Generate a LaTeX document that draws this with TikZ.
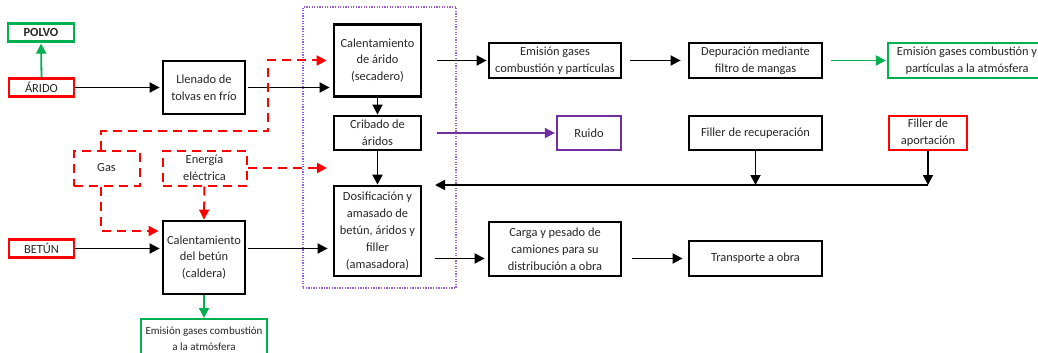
\documentclass[tikz,border=0pt]{standalone}
\usepackage{fontspec}
\setmainfont{Carlito}
\usetikzlibrary{arrows.meta,calc}
\definecolor{cgreen}{HTML}{00B050}
\definecolor{cred}{HTML}{FF0000}
\definecolor{cpurple}{HTML}{7030A0}
\definecolor{clilac}{HTML}{9B5FD0}
\definecolor{ctext}{HTML}{262626}
\begin{document}
\begin{tikzpicture}[x=1pt,y=-1pt,
  base/.style={draw, rectangle, inner sep=1pt, align=center, text=ctext,
    font=\fontsize{12.4}{16.8}\selectfont},
  blkbox/.style={base, line width=2.8pt},
  grnbox/.style={base, draw=cgreen, line width=2.2pt},
  redbox/.style={base, draw=cred, line width=2.2pt},
  dashbox/.style={base, draw=cred, line width=2pt, dash pattern=on 9pt off 6pt},
  purbox/.style={base, draw=cpurple, line width=2.2pt},
  zonebox/.style={draw=clilac, line width=1.3pt, dash pattern=on 1.3pt off 1.3pt, inner sep=0pt},
  tip/.style={-{Triangle[length=10pt,width=10pt]}},
  blkarr/.style={tip, line width=1.8pt, draw=black},
  grnarr/.style={tip, line width=1.8pt, draw=cgreen},
  purarr/.style={tip, line width=1.5pt, draw=cpurple},
  dasharr/.style={tip, line width=2pt, draw=cred, dash pattern=on 9pt off 6pt},
]
\useasboundingbox (0,0) rectangle (1038,353);
\clip (0,0) rectangle (1038,353);

% zone
\node[zonebox, minimum width=153pt, minimum height=281pt] (zone) at (379.5,147.5) {};

% left column
\node[grnbox, minimum width=66pt, minimum height=18pt] (polvo) at (41,32.5) {\textbf{POLVO}};
\node[redbox, minimum width=65pt, minimum height=18pt] (arido) at (41.5,87.5) {ÁRIDO};
\node[redbox, minimum width=65pt, minimum height=18pt] (betun) at (41.5,248.5) {BETÚN};
\node[dashbox, minimum width=66pt, minimum height=35pt] (gas) at (106.5,168) {Gas};

% second column
\node[blkbox, minimum width=82pt, minimum height=53pt] (llenado) at (204,87.5) {Llenado de\\tolvas en frío};
\node[dashbox, minimum width=84pt, minimum height=35pt] (energia) at (204.5,168) {Energía\\eléctrica};
\node[blkbox, minimum width=82pt, minimum height=73pt] (caldera) at (204,257.5) {Calentamiento\\del betún\\(caldera)};
\node[grnbox, minimum width=126pt, minimum height=40pt, font=\fontsize{11}{16}\selectfont] (emcald) at (204,339) {Emisión gases combustión\\a la atmósfera};

% process column
\node[blkbox, minimum width=87pt, minimum height=72pt] (secadero) at (377.5,60.5) {Calentamiento\\de árido\\(secadero)};
\node[blkbox, minimum width=87pt, minimum height=34pt] (cribado) at (377.5,133) {Cribado de\\áridos};
\node[blkbox, minimum width=87pt, minimum height=90pt] (dosif) at (377.5,231) {Dosificación y\\amasado de\\betún, áridos y\\filler\\(amasadora)};

% right columns
\node[blkbox, minimum width=132pt, minimum height=35pt] (emis) at (555,60.5) {Emisión gases\\combustión y partículas};
\node[blkbox, minimum width=133pt, minimum height=35pt] (depur) at (755.5,60.5) {Depuración mediante\\filtro de mangas};
\node[grnbox, minimum width=158pt, minimum height=35pt] (ematm) at (967,60.5) {Emisión gases combustión y\\partículas a la atmósfera};
\node[purbox, minimum width=64pt, minimum height=34pt] (ruido) at (589,133) {Ruido};
\node[blkbox, minimum width=133pt, minimum height=34pt] (fillrec) at (755.5,133) {Filler de recuperación};
\node[redbox, minimum width=78pt, minimum height=34pt] (fillap) at (928,133) {Filler de\\aportación};
\node[blkbox, minimum width=132pt, minimum height=54pt] (carga) at (555,249) {Carga y pesado de\\camiones para su\\distribución a obra};
\node[blkbox, minimum width=133pt, minimum height=35pt] (transp) at (755.5,258.5) {Transporte a obra};

% coordinates
\coordinate (gbend) at (268,131);
\coordinate (eend) at (327,168);
\coordinate (ret) at (435,185);

% connectors
\draw[grnarr, shorten >=1pt] (arido.north) -- (polvo.south);
\draw[blkarr, shorten >=2pt] (arido.east) -- (llenado.west);
\draw[blkarr, shorten <=2pt, shorten >=3pt] (llenado.east) -- (llenado.east -| secadero.west);
\draw[blkarr] (secadero.south) -- (cribado.north);
\draw[blkarr] (cribado.south) -- (dosif.north);

\draw[dasharr, shorten >=6pt] ([xshift=-5.5pt]gas.north) |- (gbend) |- (secadero.west);
\draw[dasharr] (energia.east) -- (eend);
\draw[dasharr] (energia.south) -- (caldera.north);
\draw[dasharr, shorten >=3pt] ([xshift=-5.5pt]gas.south) |- ([yshift=26.5pt]caldera.west);

\draw[blkarr, shorten >=2pt] (betun.east) -- (betun.east -| caldera.west);
\draw[blkarr, shorten <=2pt, shorten >=5pt] (caldera.east |- betun.east) -- (dosif.west |- betun.east);
\draw[grnarr] (caldera.south) -- (emcald.north);

\draw[blkarr, shorten <=15pt, shorten >=1pt] (secadero.east |- emis.west) -- (emis.west);
\draw[blkarr, shorten <=8pt, shorten >=7pt] (emis.east) -- (depur.west);
\draw[grnarr, shorten <=8pt, shorten >=1pt] (depur.east) -- (ematm.west);
\draw[purarr, shorten <=15pt, shorten >=1pt] (cribado.east) -- (ruido.west);

\draw[blkarr] (fillrec.south) -- (fillrec.south |- ret);
\draw[blkarr] (fillap.south) -- (fillap.south |- ret);
\draw[blkarr] (fillap.south |- ret) -- (ret);

\draw[blkarr, shorten <=13pt, shorten >=3pt] (dosif.east |- transp.west) -- (carga.west |- transp.west);
\draw[blkarr, shorten <=10pt, shorten >=5pt] (carga.east |- transp.west) -- (transp.west);
\end{tikzpicture}
\end{document}
